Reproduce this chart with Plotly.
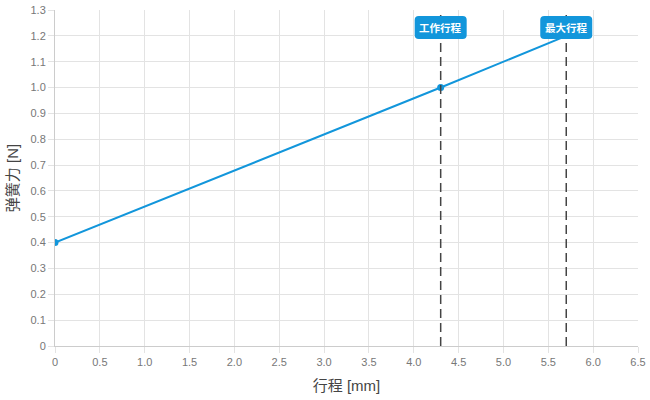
import plotly.graph_objects as go

stroke_mm = [0, 4.3, 5.7]
force_n = [0.4, 1.0, 1.2]
marker_x = [0, 4.3]
marker_y = [0.4, 1.0]
ref_x = [4.3, 5.7]
ref_labels = ["工作行程", "最大行程"]
x_ticks = [0, 0.5, 1.0, 1.5, 2.0, 2.5, 3.0, 3.5, 4.0, 4.5, 5.0, 5.5, 6.0, 6.5]
x_ticktext = ["0", "0.5", "1.0", "1.5", "2.0", "2.5", "3.0", "3.5", "4.0", "4.5", "5.0", "5.5", "6.0", "6.5"]
y_ticks = [0, 0.1, 0.2, 0.3, 0.4, 0.5, 0.6, 0.7, 0.8, 0.9, 1.0, 1.1, 1.2, 1.3]
y_ticktext = ["0", "0.1", "0.2", "0.3", "0.4", "0.5", "0.6", "0.7", "0.8", "0.9", "1.0", "1.1", "1.2", "1.3"]

BLUE = "#1296db"
FONT = "'Liberation Sans', 'Noto Sans CJK SC', sans-serif"

fig = go.Figure()
fig.add_trace(go.Scatter(x=stroke_mm, y=force_n, mode="lines",
                         line=dict(color=BLUE, width=2), hoverinfo="skip", showlegend=False))
fig.add_trace(go.Scatter(x=marker_x, y=marker_y, mode="markers",
                         marker=dict(color=BLUE, size=7), showlegend=False))

shapes = []
annotations = []
w, h, r = 26, 11.5, 4
cy = -17.5
box_path = (f"M {-w+r} {cy-h} L {w-r} {cy-h} Q {w} {cy-h} {w} {cy-h+r} L {w} {cy+h-r} Q {w} {cy+h} {w-r} {cy+h} "
            f"L {-w+r} {cy+h} Q {-w} {cy+h} {-w} {cy+h-r} L {-w} {cy-h+r} Q {-w} {cy-h} {-w+r} {cy-h} Z")
for xv, lab in zip(ref_x, ref_labels):
    shapes.append(dict(type="line", xref="x", yref="paper", x0=xv, x1=xv, y0=0, y1=1,
                       line=dict(color="#444444", width=1.5, dash="9px,5px"), layer="above"))
    shapes.append(dict(type="path", xref="x", yref="paper", xsizemode="pixel", ysizemode="pixel",
                       xanchor=xv, yanchor=1, path=box_path,
                       fillcolor=BLUE, line=dict(width=0), layer="above"))
    annotations.append(dict(x=xv, y=1, xref="x", yref="paper", yshift=cy, yanchor="middle",
                            xanchor="center", text=f"<b>{lab}</b>",
                            showarrow=False, font=dict(color="white", size=10.5, family=FONT)))

fig.update_layout(
    width=650, height=400,
    margin=dict(l=55, r=12, t=10, b=54, autoexpand=False),
    paper_bgcolor="white", plot_bgcolor="white",
    font=dict(family=FONT, color="#777777", size=11),
    shapes=shapes, annotations=annotations,
    xaxis=dict(range=[0, 6.5], tickvals=x_ticks, ticktext=x_ticktext, automargin=False,
               showgrid=True, gridcolor="#e3e3e3", gridwidth=1,
               showline=True, linecolor="#cccccc", linewidth=1,
               ticks="outside", ticklen=6, tickcolor="#e3e3e3", zeroline=False,
               ticklabeloverflow="allow",
               title=dict(text="行程 [mm]", font=dict(size=15, color="#444444"), standoff=13),
               fixedrange=True),
    yaxis=dict(range=[0, 1.3], tickvals=y_ticks, ticktext=y_ticktext, automargin=False,
               showgrid=True, gridcolor="#e3e3e3", gridwidth=1,
               showline=True, linecolor="#cccccc", linewidth=1,
               ticks="outside", ticklen=6, tickcolor="#e3e3e3", zeroline=False,
               ticklabeloverflow="allow",
               title=dict(text="弹簧力 [N]", font=dict(size=15, color="#444444"), standoff=8),
               fixedrange=True),
)

fig.write_html("out.html", config={"displayModeBar": False},
               post_script="document.body.style.margin='0';document.body.style.overflow='hidden';")
